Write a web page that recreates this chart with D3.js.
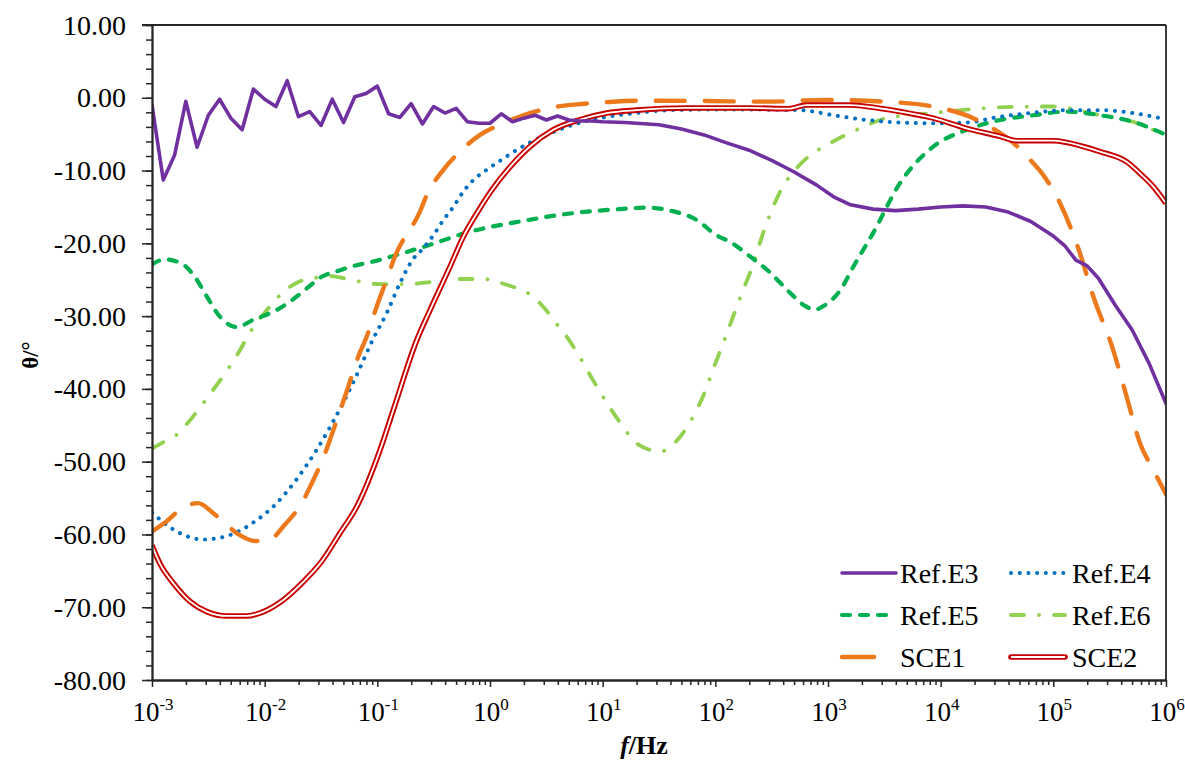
<!DOCTYPE html>
<html><head><meta charset="utf-8">
<script src="https://cdn.jsdelivr.net/npm/d3@7/dist/d3.min.js"></script>
</head><body style="margin:0;background:#fff">
<svg id="chart" width="1185" height="761"></svg>
<script>
// ---- data: [log10(f / Hz), theta in degrees] ----
const refE3 = [[-3.0,-1.0],[-2.9,-11.3],[-2.8,-7.9],[-2.7,-0.5],[-2.6,-6.8],[-2.5,-2.4],[-2.4,-0.2],[-2.3,-2.8],[-2.2,-4.4],[-2.1,1.2],[-2.0,-0.2],[-1.9,-1.2],[-1.8,2.35],[-1.7,-2.6],[-1.6,-1.9],[-1.5,-3.8],[-1.4,-0.2],[-1.3,-3.4],[-1.2,0.15],[-1.1,0.6],[-1.0,1.6],[-0.9,-2.2],[-0.8,-2.7],[-0.7,-0.8],[-0.6,-3.6],[-0.5,-1.2],[-0.4,-2.1],[-0.3,-1.45],[-0.2,-3.3],[-0.1,-3.5],[0.0,-3.5],[0.1,-2.2],[0.2,-3.3],[0.3,-2.8],[0.4,-2.4],[0.5,-3.05],[0.6,-2.5],[0.7,-3.05],[0.8,-3.2],[0.9,-3.2],[1.0,-3.3],[1.2,-3.4],[1.5,-3.7],[1.7,-4.3],[1.9,-5.1],[2.1,-6.2],[2.3,-7.2],[2.5,-8.6],[2.7,-10.2],[2.9,-12.0],[3.05,-13.6],[3.2,-14.7],[3.4,-15.3],[3.6,-15.5],[3.8,-15.3],[4.0,-15.0],[4.2,-14.85],[4.4,-15.0],[4.6,-15.7],[4.8,-17.0],[5.0,-19.0],[5.1,-20.3],[5.2,-22.3],[5.3,-23.1],[5.4,-24.8],[5.55,-28.5],[5.7,-31.9],[5.85,-36.5],[6.0,-42.0]];
const refE4 = [[-3.0,-57.0],[-2.78,-59.6],[-2.545,-60.7],[-2.38,-60.4],[-2.22,-59.5],[-2.086,-58.2],[-1.893,-55.7],[-1.73,-52.7],[-1.544,-48.5],[-1.30,-41.8],[-1.183,-38.1],[-1.036,-33.1],[-0.917,-29.6],[-0.80,-25.5],[-0.68,-22.1],[-0.606,-20.9],[-0.503,-18.9],[-0.414,-16.8],[-0.326,-15.0],[-0.237,-12.9],[-0.148,-11.3],[-0.029,-9.9],[0.104,-8.5],[0.266,-6.9],[0.40,-5.8],[0.562,-4.7],[0.739,-3.7],[0.976,-2.8],[1.30,-2.1],[1.598,-1.7],[2.04,-1.6],[2.75,-1.7],[3.05,-2.4],[3.34,-3.05],[3.64,-3.4],[3.93,-3.5],[4.23,-3.4],[4.527,-2.6],[4.82,-2.05],[5.12,-1.7],[5.414,-1.7],[5.707,-2.1],[6.0,-2.96]];
const refE5 = [[-3.0,-22.9],[-2.885,-22.2],[-2.736,-22.8],[-2.62,-24.6],[-2.514,-27.3],[-2.396,-30.1],[-2.248,-31.5],[-2.10,-30.5],[-1.923,-29.4],[-1.775,-28.0],[-1.627,-26.2],[-1.494,-24.6],[-1.331,-23.7],[-1.183,-23.0],[-1.036,-22.5],[-0.828,-21.6],[-0.68,-20.9],[-0.592,-20.5],[-0.178,-18.4],[0.266,-17.0],[0.71,-15.9],[1.154,-15.3],[1.39,-15.1],[1.598,-15.5],[1.835,-16.8],[2.012,-18.9],[2.13,-19.8],[2.308,-21.8],[2.485,-24.0],[2.663,-26.8],[2.796,-28.6],[2.885,-29.1],[2.973,-28.5],[3.106,-26.5],[3.24,-22.8],[3.40,-18.6],[3.64,-11.7],[3.935,-6.7],[4.23,-4.4],[4.527,-3.05],[4.82,-2.4],[5.12,-1.9],[5.414,-2.4],[5.707,-3.3],[6.0,-5.1]];
const refE6 = [[-3.0,-48.2],[-2.885,-47.2],[-2.78,-46.3],[-2.663,-44.3],[-2.47,-40.4],[-2.38,-38.5],[-2.22,-34.7],[-2.145,-32.6],[-1.982,-29.2],[-1.849,-26.9],[-1.70,-25.3],[-1.568,-24.8],[-1.42,-24.5],[-1.213,-25.1],[-0.976,-25.6],[-0.74,-25.6],[-0.517,-25.3],[-0.296,-24.9],[-0.06,-24.9],[0.148,-25.7],[0.37,-27.2],[0.488,-29.0],[0.562,-30.5],[0.666,-32.5],[0.784,-35.3],[0.903,-38.5],[1.02,-41.5],[1.154,-44.6],[1.302,-47.5],[1.509,-48.6],[1.686,-46.6],[1.81,-43.6],[1.908,-40.4],[1.988,-37.0],[2.07,-33.7],[2.15,-30.4],[2.234,-26.9],[2.314,-23.8],[2.456,-17.2],[2.6,-12.2],[2.75,-9.2],[3.047,-6.0],[3.255,-4.4],[3.52,-2.8],[3.93,-2.1],[4.378,-1.45],[4.82,-1.2],[5.0,-1.2],[5.414,-2.4],[5.707,-3.3],[6.0,-5.25]];
const sce1 = [[-3.0,-59.6],[-2.87,-58.2],[-2.736,-56.4],[-2.59,-55.7],[-2.47,-56.9],[-2.352,-58.5],[-2.22,-60.1],[-2.086,-60.9],[-1.953,-60.7],[-1.835,-58.9],[-1.657,-55.3],[-1.583,-53.0],[-1.465,-48.9],[-1.405,-46.3],[-1.258,-39.7],[-1.17,-35.6],[-1.094,-32.8],[-1.006,-28.7],[-0.932,-25.6],[-0.843,-21.8],[-0.621,-15.6],[-0.562,-13.4],[-0.414,-9.9],[-0.266,-7.4],[-0.089,-5.1],[0.089,-3.7],[0.296,-2.4],[0.562,-1.3],[0.77,-0.9],[1.036,-0.6],[1.30,-0.4],[1.89,-0.45],[2.456,-0.53],[2.99,-0.3],[3.49,-0.53],[3.93,-1.2],[4.29,-2.8],[4.438,-4.0],[4.615,-5.8],[4.793,-8.5],[4.91,-10.6],[5.06,-14.5],[5.237,-21.4],[5.355,-27.3],[5.532,-34.7],[5.651,-41.1],[5.77,-47.5],[5.887,-51.1],[6.0,-54.5]];
const sce2 = [[-3.0,-61.5],[-2.93,-64.0],[-2.81,-66.7],[-2.663,-69.2],[-2.514,-70.6],[-2.337,-71.2],[-2.16,-71.2],[-2.01,-70.6],[-1.835,-69.0],[-1.657,-66.5],[-1.494,-63.7],[-1.331,-59.8],[-1.183,-56.2],[-0.976,-48.4],[-0.858,-42.9],[-0.65,-33.3],[-0.533,-29.2],[-0.355,-23.2],[-0.237,-19.1],[-0.118,-15.9],[0.015,-12.7],[0.178,-9.5],[0.355,-6.7],[0.562,-4.4],[0.80,-3.0],[1.036,-2.1],[1.30,-1.7],[1.746,-1.4],[2.308,-1.4],[2.65,-1.5],[2.81,-1.0],[3.195,-1.0],[3.343,-1.2],[3.64,-1.9],[3.935,-2.8],[4.23,-4.2],[4.527,-5.3],[4.675,-5.9],[5.0,-5.9],[5.266,-6.7],[5.414,-7.4],[5.651,-8.8],[5.77,-10.4],[5.887,-12.2],[6.0,-14.5]];

const seriesNames = ["Ref.E3","Ref.E4","Ref.E5","Ref.E6","SCE1","SCE2"];
const yMajorTicks = [10,0,-10,-20,-30,-40,-50,-60,-70,-80];
const xDecadeExponents = [-3,-2,-1,0,1,2,3,4,5,6];

// ---- layout ----
const FONT = "Liberation Serif";
const svg = d3.select("#chart");
const L=152, R=1166, T=25, B=680;
const x = d3.scaleLog().domain([1e-3,1e6]).range([L,R]);
const y = d3.scaleLinear().domain([-80,10]).range([B,T]);
const axisColor = "#262626";

const styles = {
  "Ref.E3": {data: refE3, color:"#7030a0", width:3.6, dash:null, cap:"round", curve:d3.curveLinear, legendLen:54},
  "Ref.E4": {data: refE4, color:"#0070c0", width:4, dash:"0.1,8.6", cap:"round", curve:d3.curveMonotoneX, legendLen:54},
  "Ref.E5": {data: refE5, color:"#00b050", width:4.2, dash:"8,10", cap:"round", curve:d3.curveMonotoneX, legendLen:54},
  "Ref.E6": {data: refE6, color:"#92d050", width:3.8, dash:"13,15,0.1,15", cap:"round", curve:d3.curveMonotoneX, legendLen:54},
  "SCE1":   {data: sce1,  color:"#ec7a1c", width:4.4, dash:"29,20", cap:"round", curve:d3.curveMonotoneX, legendLen:32},
  "SCE2":   {data: sce2,  color:"#c80000", width:5.6, dash:null, cap:"butt", curve:d3.curveMonotoneX, double:true, legendLen:54}
};

svg.append("defs").append("clipPath").attr("id","clip")
  .append("rect").attr("x",L).attr("y",T-2).attr("width",R-L).attr("height",B-T+4);

// ---- series ----
const gLines = svg.append("g").attr("clip-path","url(#clip)");
const drawOrder = ["Ref.E6","Ref.E5","Ref.E4","SCE1","SCE2","Ref.E3"];
drawOrder.forEach(name => {
  const s = styles[name];
  const line = d3.line().x(d => x(Math.pow(10,d[0]))).y(d => y(d[1])).curve(s.curve);
  const p = gLines.append("path").datum(s.data).attr("d", line)
    .attr("fill","none").attr("stroke", s.color).attr("stroke-width", s.width)
    .attr("stroke-linecap", s.cap).attr("stroke-linejoin","round");
  if (s.dash) p.attr("stroke-dasharray", s.dash);
  if (s.double) {
    gLines.append("path").datum(s.data).attr("d", line)
      .attr("fill","none").attr("stroke","#fff").attr("stroke-width",1.8)
      .attr("stroke-linejoin","round");
  }
});

// ---- axes ----
const yMinor = d3.range(-80, 10.001, 2);
const gy = svg.append("g").attr("transform",`translate(${L},0)`);
gy.call(d3.axisLeft(y).tickValues(yMinor).tickSize(6).tickSizeOuter(0).tickFormat(""));
const gy2 = svg.append("g").attr("transform",`translate(${L},0)`);
gy2.call(d3.axisLeft(y).tickValues(yMajorTicks).tickSize(10).tickSizeOuter(0).tickFormat(""));
[gy,gy2].forEach(g => { g.selectAll("line").attr("stroke",axisColor).attr("stroke-width",1.5);
  g.select(".domain").attr("stroke",axisColor).attr("stroke-width",1.8); });

const gText = svg.append("g");
yMajorTicks.forEach(v => {
  gText.append("text").attr("x",126).attr("y",y(v)+9.5).attr("font-family",FONT)
    .attr("text-anchor","end").attr("font-size",28).attr("fill","#000")
    .text(v.toFixed(2));
});

const xMinor = [];
xDecadeExponents.slice(0,-1).forEach(e => { for (let k=2;k<=9;k++) xMinor.push(k*Math.pow(10,e)); });
const xMajor = xDecadeExponents.map(e => Math.pow(10,e));
const gx = svg.append("g").attr("transform",`translate(0,${B})`);
gx.call(d3.axisBottom(x).tickValues(xMinor).tickSize(5).tickSizeOuter(0).tickFormat(""));
const gx2 = svg.append("g").attr("transform",`translate(0,${B})`);
gx2.call(d3.axisBottom(x).tickValues(xMajor).tickSize(7).tickSizeOuter(0).tickFormat(""));
[gx,gx2].forEach(g => { g.selectAll("line").attr("stroke",axisColor).attr("stroke-width",1.5);
  g.select(".domain").attr("stroke",axisColor).attr("stroke-width",1.8); });

xDecadeExponents.forEach(e => {
  const t = gText.append("text").attr("x", x(Math.pow(10,e))+1).attr("y",721).attr("font-family",FONT)
    .attr("text-anchor","middle").attr("font-size",27).attr("fill","#000");
  t.append("tspan").text("10");
  t.append("tspan").attr("font-size",17).attr("dy",-11).text(String(e));
});

// frame (top & right)
svg.append("line").attr("x1",L-10).attr("x2",R).attr("y1",T).attr("y2",T)
  .attr("stroke",axisColor).attr("stroke-width",1.8);
svg.append("line").attr("x1",R).attr("x2",R).attr("y1",T).attr("y2",B)
  .attr("stroke",axisColor).attr("stroke-width",1.8);

// axis titles
const xt = gText.append("text").attr("x",644).attr("y",754).attr("text-anchor","middle").attr("font-family",FONT)
  .attr("font-size",26).attr("font-weight","bold").attr("fill","#000");
xt.append("tspan").attr("font-style","italic").text("f");
xt.append("tspan").text("/Hz");
gText.append("text").attr("transform","translate(38,355) rotate(-90)").attr("font-family",FONT)
  .attr("text-anchor","middle").attr("font-size",23).attr("font-weight","bold").attr("fill","#000")
  .text("θ/°");

// ---- legend ----
const legendPos = {
  "Ref.E3":[842,573,900], "Ref.E4":[1011,573,1072],
  "Ref.E5":[842,615,900], "Ref.E6":[1011,615,1072],
  "SCE1":[842,657,900],   "SCE2":[1011,657,1072]
};
seriesNames.forEach(name => {
  const s = styles[name], [lx, ly, tx] = legendPos[name];
  const lw = s.legendLen;
  const l = svg.append("line").attr("x1",lx).attr("x2",lx+lw).attr("y1",ly).attr("y2",ly)
    .attr("stroke",s.color).attr("stroke-width",s.width).attr("stroke-linecap", s.double ? "round" : s.cap);
  if (s.dash && !name.startsWith("SCE")) l.attr("stroke-dasharray", s.dash);
  if (s.double) {
    svg.append("line").attr("x1",lx).attr("x2",lx+lw).attr("y1",ly).attr("y2",ly)
      .attr("stroke","#fff").attr("stroke-width",1.8);
  }
  gText.append("text").attr("x",tx).attr("y",ly+9.5).attr("font-family",FONT)
    .attr("font-size",28).attr("fill","#000").text(name);
});
</script>
</body></html>
